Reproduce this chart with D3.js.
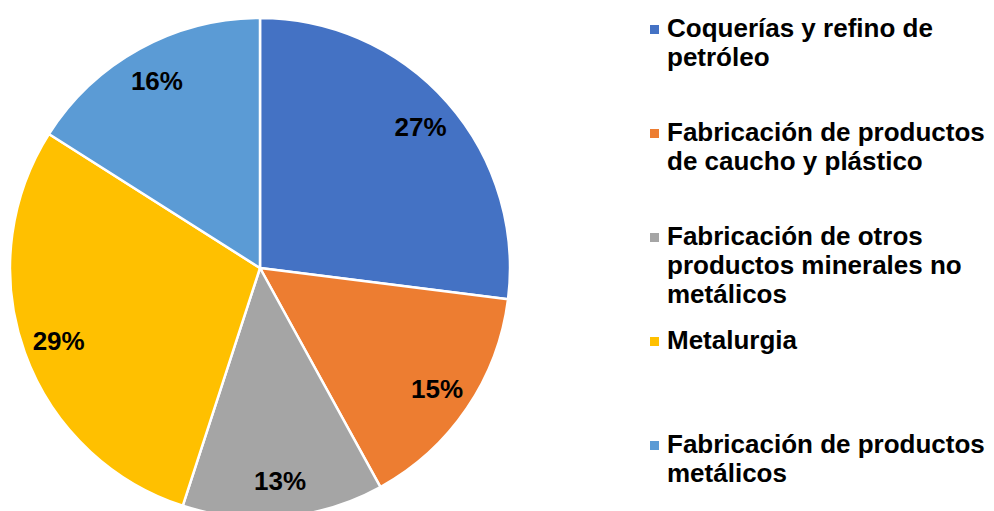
<!DOCTYPE html>
<html>
<head>
<meta charset="utf-8">
<script src="https://cdn.jsdelivr.net/npm/d3@7"></script>
<style>
  body { margin: 0; background: #fff; }
  svg { display: block; font-family: "Liberation Sans", Arial, sans-serif; font-weight: bold; }
</style>
</head>
<body>
<div id="chart"></div>
<script>
const width = 994;
const height = 511;

// sectores y porcentajes
const categories = [
    "Coquerías y refino de petróleo",
    "Fabricación de productos de caucho y plástico",
    "Fabricación de otros productos minerales no metálicos",
    "Metalurgia",
    "Fabricación de productos metálicos"
];
const values = [27, 15, 13, 29, 16];
const colors = ["#4472C4", "#ED7D31", "#A5A5A5", "#FFC000", "#5B9BD5"];

const cx = 260, cy = 268, radius = 250, labelRadius = 214;

const svg = d3.select("#chart")
    .append("svg")
    .attr("width", width)
    .attr("height", height);

const color = d3.scaleOrdinal().domain(categories).range(colors);

const pie = d3.pie().sort(null).value((d, i) => values[i]);
const arcs = pie(categories);

const arc = d3.arc().innerRadius(0).outerRadius(radius);
const labelArc = d3.arc().innerRadius(labelRadius).outerRadius(labelRadius);

const g = svg.append("g").attr("transform", `translate(${cx},${cy})`);

g.selectAll("path")
    .data(arcs)
    .join("path")
    .attr("d", arc)
    .attr("fill", (d) => color(d.data))
    .attr("stroke", "#fff")
    .attr("stroke-width", 2.5)
    .attr("stroke-linejoin", "round");

g.selectAll("text")
    .data(arcs)
    .join("text")
    .attr("transform", (d) => `translate(${labelArc.centroid(d)})`)
    .attr("text-anchor", "middle")
    .attr("dy", "0.36em")
    .attr("font-size", 26)
    .attr("fill", "#000")
    .text((d, i) => values[i] + "%");

// leyenda
const legendX = 650, legendY = 37, legendStep = 104, lineH = 29, maxW = 335;

const items = svg.append("g")
    .selectAll("g")
    .data(categories)
    .join("g")
    .attr("transform", (d, i) => `translate(${legendX},${legendY + i * legendStep})`);

items.append("rect")
    .attr("x", 0)
    .attr("y", -12)
    .attr("width", 9)
    .attr("height", 9)
    .attr("fill", (d) => color(d));

items.each(function (d) {
    const t = d3.select(this).append("text")
        .attr("x", 17)
        .attr("font-size", 26)
        .attr("fill", "#000");
    const words = d.split(" ");
    let line = [];
    let n = 0;
    let tspan = t.append("tspan").attr("x", 17).attr("y", 0);
    words.forEach((w) => {
        line.push(w);
        tspan.text(line.join(" "));
        if (tspan.node().getComputedTextLength() > maxW && line.length > 1) {
            line.pop();
            tspan.text(line.join(" "));
            line = [w];
            n++;
            tspan = t.append("tspan").attr("x", 17).attr("y", n * lineH).text(w);
        }
    });
});
</script>
</body>
</html>
